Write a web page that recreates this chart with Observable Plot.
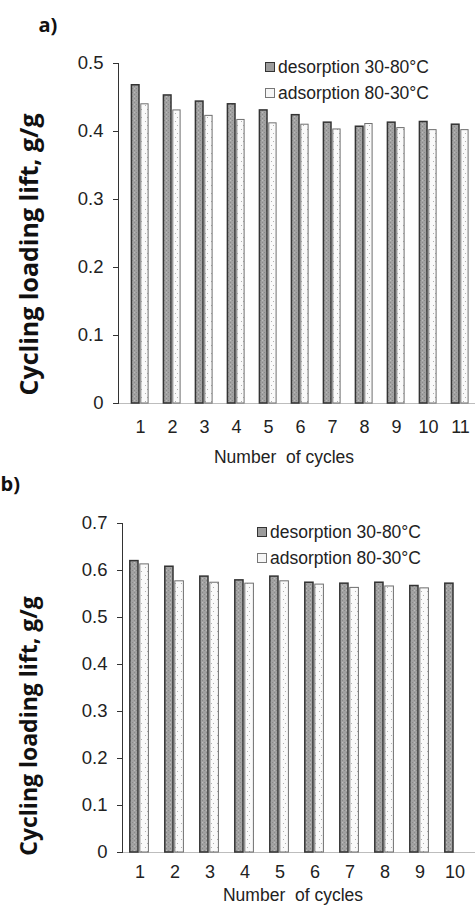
<!DOCTYPE html>
<html>
<head>
<meta charset="utf-8">
<script src="https://cdn.jsdelivr.net/npm/d3@7"></script>
<script src="https://cdn.jsdelivr.net/npm/@observablehq/plot@0.6"></script>
<style>
  html, body { margin: 0; padding: 0; background: #fff; overflow: hidden; }
  #wrap { position: relative; width: 475px; height: 909px; overflow: hidden; font-family: "Liberation Sans", Arial, sans-serif; }
  .panel { position: absolute; left: 0; }
  .legend { position: absolute; font-family: "Liberation Sans", Arial, sans-serif; font-size: 17.5px; color: #222; line-height: 26px; }
  .legend .row { display: flex; align-items: center; white-space: nowrap; }
  .sw { display: inline-block; width: 8px; height: 8px; margin-right: 3px; box-sizing: content-box; }
  .sw.des { background: #9c9c9c; border: 1.5px solid #333; }
  .sw.ads { background: #f6f6f6; border: 1px solid #777; }
</style>
</head>
<body>
<div id="wrap">
  <svg width="0" height="0" style="position:absolute">
    <defs>
      <pattern id="desPat" width="4" height="4" patternUnits="userSpaceOnUse">
        <rect width="4" height="4" fill="#a2a2a2"></rect>
        <rect x="0" y="0" width="1" height="1" fill="#8a8a8a"></rect>
        <rect x="2" y="2" width="1" height="1" fill="#8a8a8a"></rect>
        <rect x="2" y="0" width="1" height="1" fill="#bcbcbc"></rect>
      </pattern>
      <pattern id="adsPat" width="6" height="8" patternUnits="userSpaceOnUse">
        <rect width="6" height="8" fill="#fafafa"></rect>
        <rect x="1" y="1" width="1" height="1" fill="#b0b0b0"></rect>
        <rect x="3" y="5" width="1" height="1" fill="#b0b0b0"></rect>
      </pattern>
    </defs>
  </svg>
</div>
<script>
// ---------- data ----------
const cyclesA = [1, 2, 3, 4, 5, 6, 7, 8, 9, 10, 11];
const desorptionA = [0.468, 0.453, 0.444, 0.440, 0.431, 0.424, 0.413, 0.407, 0.413, 0.414, 0.410];
const adsorptionA = [0.440, 0.431, 0.423, 0.417, 0.412, 0.410, 0.403, 0.411, 0.405, 0.402, 0.402];
const yTicksA = [0, 0.1, 0.2, 0.3, 0.4, 0.5];

const cyclesB = [1, 2, 3, 4, 5, 6, 7, 8, 9, 10];
const desorptionB = [0.620, 0.608, 0.587, 0.579, 0.587, 0.574, 0.572, 0.574, 0.567, 0.572];
const adsorptionB = [0.613, 0.577, 0.574, 0.572, 0.577, 0.570, 0.563, 0.566, 0.562, null];
const yTicksB = [0, 0.1, 0.2, 0.3, 0.4, 0.5, 0.6, 0.7];

const seriesNames = ["desorption 30-80°C", "adsorption 80-30°C"];
const yTitle = "Cycling loading lift, g/g";
const xTitle = "Number\u00a0 of cycles";

const fmt = d => d === 0 ? "0" : d.toFixed(1);

function panel(o) {
  const desData = o.cycles.map((c, i) => ({cycle: c, v: o.des[i]})).filter(d => d.v != null);
  const adsData = o.cycles.map((c, i) => ({cycle: c, v: o.ads[i]})).filter(d => d.v != null);
  return Plot.plot({
    width: 475,
    height: o.height,
    marginTop: o.mt,
    marginBottom: o.mb,
    marginLeft: o.ml,
    marginRight: 0,
    style: {fontFamily: '"Liberation Sans", Arial, sans-serif', fontSize: "16px", color: "#222", background: "transparent", overflow: "visible"},
    x: {type: "band", domain: o.cycles, range: o.xRange, padding: 0},
    y: {domain: [0, o.yMax]},
    marks: [
      Plot.ruleY([0], {stroke: "#bdbdbd", strokeWidth: 1.2}),
      Plot.barY(desData, {x: "cycle", y: "v", fill: "url(#desPat)", stroke: "#333", strokeWidth: 1.5,
        insetLeft: o.desIn[0], insetRight: o.desIn[1]}),
      Plot.barY(adsData, {x: "cycle", y: "v", fill: "url(#adsPat)", stroke: "#6e6e6e", strokeWidth: 1,
        insetLeft: o.adsIn[0], insetRight: o.adsIn[1]}),
      Plot.frame({anchor: "left", stroke: "#333", strokeWidth: 1}),
      Plot.axisY({ticks: o.yTicks, tickFormat: fmt, tickSize: 5, tickPadding: 10, label: null,
        fontSize: 18.5, stroke: "#333"}),
      Plot.axisX({tickSize: 0, tickPadding: o.xPad, label: null, fontSize: 18}),
      Plot.text([yTitle], {frameAnchor: "left", textAnchor: "middle", lineAnchor: "middle", rotate: -90,
        dx: o.yTitleDx, dy: o.yTitleDy,
        fontSize: o.yTitleSize, fontWeight: "bold", fontFamily: '"Open Sans", sans-serif', fill: "#111"}),
      Plot.text([xTitle], {frameAnchor: "bottom", textAnchor: "middle", dx: o.xTitleDx, dy: o.xTitleDy, lineAnchor: "middle",
        fontSize: 17.5, fill: "#222"}),
      Plot.text([o.tag], {frameAnchor: "top-left", dx: o.tagDx, dy: o.tagDy, lineAnchor: "middle", textAnchor: "start",
        fontSize: 20, fontWeight: "bold", fontFamily: '"Open Sans", sans-serif', fill: "#111"})
    ]
  });
}

const wrap = document.getElementById("wrap");

const pA = panel({
  cycles: cyclesA, des: desorptionA, ads: adsorptionA, yMax: 0.5, yTicks: yTicksA,
  height: 470, mt: 63, mb: 67, ml: 118, xRange: [119.5, 481],
  desIn: [7.4, 17.0], adsIn: [16.8, 7.9], xPad: 17,
  yTitleDx: -89, yTitleDy: 21, yTitleSize: 25,
  xTitleDx: -13, xTitleDy: 54, tag: "a)", tagDx: -80, tagDy: -38
});
pA.classList.add("panel"); pA.style.top = "0px";
wrap.appendChild(pA);

const pB = panel({
  cycles: cyclesB, des: desorptionB, ads: adsorptionB, yMax: 0.7, yTicks: yTicksB,
  height: 439, mt: 53, mb: 57, ml: 122, xRange: [121.5, 472.5],
  desIn: [7.8, 19.0], adsIn: [17.8, 8.6], xPad: 13,
  yTitleDx: -93, yTitleDy: 38, yTitleSize: 23,
  xTitleDx: -6, xTitleDy: 43, tag: "b)", tagDx: -122, tagDy: -39
});
pB.classList.add("panel"); pB.style.top = "470px";
wrap.appendChild(pB);

function legend(left, top) {
  const div = document.createElement("div");
  div.className = "legend";
  div.style.left = left + "px";
  div.style.top = top + "px";
  div.innerHTML = seriesNames.map((n, i) =>
    `<div class="row"><span class="sw ${i === 0 ? "des" : "ads"}"></span><span>${n}</span></div>`).join("");
  wrap.appendChild(div);
}
legend(265, 54);
legend(257, 519);
</script>
</body>
</html>
